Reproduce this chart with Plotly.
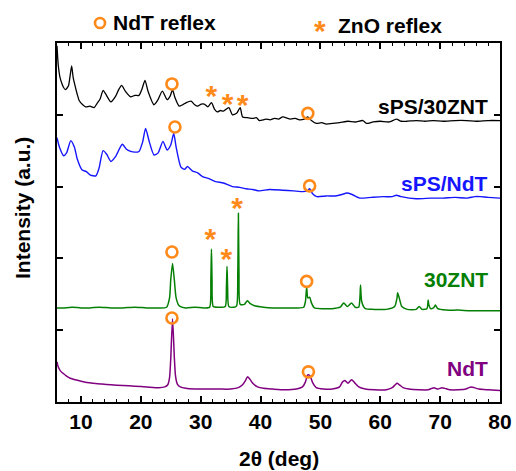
import plotly.graph_objects as go

# ---------------- data ----------------
ndt_x = [6.0, 6.2, 6.6, 7.0, 7.6, 8.2, 9.0, 10.0, 11.0, 12.0, 13.5, 15.0, 17.0, 19.0, 21.0, 23.0, 24.0,
         24.5, 24.8, 25.0, 25.3, 25.6, 25.8, 26.1, 26.6, 27.5, 29.0, 31.0, 33.0, 35.0, 36.3, 37.0, 37.5,
         37.8, 38.2, 38.7, 39.5, 40.5, 42.0, 44.0, 46.0, 47.0, 47.5, 47.8, 48.0, 48.3, 48.7, 49.3, 50.5,
         52.0, 53.2, 53.7, 54.1, 54.6, 55.2, 55.7, 56.4, 57.5, 59.0, 61.0, 62.0, 62.5, 62.8, 63.2, 63.8,
         64.8, 66.5, 68.0, 68.6, 69.0, 69.6, 70.3, 70.8, 71.6, 73.0, 74.3, 74.8, 75.2, 75.7, 76.5, 78.0, 80.0]
ndt_y = [0.56, 0.49, 0.43, 0.40, 0.36, 0.33, 0.31, 0.29, 0.27, 0.26, 0.25, 0.24, 0.23, 0.22, 0.21, 0.20, 0.21,
         0.24, 0.34, 0.60, 1.16, 0.62, 0.36, 0.25, 0.21, 0.19, 0.18, 0.18, 0.18, 0.18, 0.20, 0.24, 0.30,
         0.35, 0.32, 0.26, 0.21, 0.19, 0.18, 0.17, 0.18, 0.21, 0.28, 0.37, 0.38, 0.36, 0.27, 0.20, 0.18,
         0.18, 0.21, 0.28, 0.30, 0.26, 0.31, 0.27, 0.21, 0.18, 0.17, 0.17, 0.20, 0.24, 0.26, 0.24, 0.20,
         0.18, 0.17, 0.17, 0.19, 0.20, 0.18, 0.20, 0.19, 0.17, 0.17, 0.18, 0.20, 0.21, 0.20, 0.18, 0.17, 0.16]

znt_x = [6.0, 7.0, 8.5, 10.0, 11.5, 13.0, 15.0, 17.0, 19.0, 21.0, 23.0, 24.3, 24.8, 25.0, 25.3, 25.6,
         25.9, 26.4, 27.5, 29.0, 30.5, 31.5, 31.7, 31.8, 31.9, 32.1, 33.0, 34.1, 34.3, 34.4, 34.5, 34.7,
         35.5, 36.0, 36.2, 36.3, 36.4, 36.6, 37.3, 37.8, 38.3, 39.0, 40.5, 42.0, 44.0, 46.0, 47.2, 47.5,
         47.7, 47.9, 48.2, 48.5, 49.0, 50.5, 52.0, 53.3, 53.9, 54.5, 55.2, 55.8, 56.4, 56.6, 56.7, 56.9,
         57.5, 59.0, 61.0, 62.4, 62.8, 62.9, 63.2, 63.6, 64.5, 66.0, 66.5, 67.0, 67.8, 68.0, 68.1, 68.4,
         68.9, 69.2, 69.6, 71.0, 73.0, 75.0, 77.0, 80.0]
znt_y = [1.31, 1.31, 1.32, 1.31, 1.31, 1.32, 1.31, 1.31, 1.32, 1.31, 1.31, 1.32, 1.45, 1.70, 1.93, 1.70,
         1.45, 1.34, 1.31, 1.32, 1.31, 1.32, 1.70, 2.13, 1.70, 1.33, 1.32, 1.33, 1.60, 1.89, 1.60, 1.33,
         1.32, 1.34, 1.80, 2.63, 1.80, 1.36, 1.36, 1.41, 1.37, 1.34, 1.32, 1.31, 1.31, 1.31, 1.32, 1.40,
         1.60, 1.45, 1.46, 1.38, 1.31, 1.30, 1.30, 1.32, 1.38, 1.33, 1.38, 1.32, 1.32, 1.45, 1.63, 1.40,
         1.30, 1.29, 1.29, 1.33, 1.45, 1.52, 1.44, 1.33, 1.29, 1.29, 1.33, 1.29, 1.30, 1.42, 1.36, 1.30,
         1.31, 1.35, 1.30, 1.28, 1.28, 1.27, 1.27, 1.27]

spsndt_x = [6.0, 6.4, 7.1, 7.6, 8.3, 8.9, 9.4, 10.2, 10.9, 11.6, 12.5, 13.0, 13.7, 14.3, 15.0, 15.8,
            16.9, 17.6, 18.3, 19.0, 19.7, 20.3, 20.8, 21.4, 22.2, 22.9, 23.7, 24.4, 25.0, 25.5, 25.9,
            26.7, 27.3, 27.8, 28.6, 29.5, 30.3, 31.4, 32.5, 33.8, 35.3, 36.5, 37.6, 38.7, 39.8, 41.5,
            43.7, 45.5, 47.0, 47.8, 48.2, 48.7, 49.4, 51.0, 52.5, 53.6, 54.4, 55.3, 56.6, 58.5, 60.5,
            62.0, 62.7, 63.5, 66.0, 68.5, 70.5, 72.5, 74.5, 75.8, 76.7, 78.0, 80.0]
spsndt_y = [3.68, 3.55, 3.43, 3.47, 3.64, 3.55, 3.38, 3.23, 3.21, 3.16, 3.15, 3.25, 3.50, 3.45, 3.35, 3.42,
            3.59, 3.52, 3.49, 3.48, 3.49, 3.62, 3.81, 3.63, 3.44, 3.47, 3.63, 3.51, 3.58, 3.74, 3.55,
            3.27, 3.24, 3.28, 3.22, 3.19, 3.14, 3.11, 3.07, 3.05, 3.00, 2.99, 2.97, 2.96, 2.94, 2.96,
            2.95, 2.94, 2.93, 2.94, 2.97, 2.90, 2.86, 2.87, 2.87, 2.89, 2.91, 2.89, 2.84, 2.85, 2.86,
            2.86, 2.88, 2.86, 2.83, 2.84, 2.84, 2.85, 2.84, 2.86, 2.86, 2.85, 2.84]

sps30_x = [6.0, 6.2, 6.5, 6.8, 7.1, 7.4, 7.9, 8.2, 8.45, 8.7, 9.0, 9.4, 9.7, 10.3, 10.8, 11.5,
           12.2, 12.7, 13.2, 13.7, 14.2, 15.0, 15.8, 16.3, 16.8, 17.4, 18.3, 19.0, 19.7, 20.2, 20.7,
           21.2, 22.2, 22.8, 23.6, 24.4, 24.9, 25.3, 25.7, 26.4, 27.0, 27.6, 28.4, 29.0, 29.5, 30.1,
           30.6, 31.2, 31.8, 32.3, 32.8, 33.3, 33.8, 34.7, 35.3, 36.0, 36.6, 37.0, 37.8, 38.7, 39.3,
           39.8, 40.9, 41.6, 42.3, 43.0, 43.7, 45.0, 45.8, 46.5, 47.3, 47.9, 48.5, 49.3, 50.2, 51.0,
           52.0, 53.2, 54.6, 55.8, 57.1, 57.7, 58.8, 60.0, 61.5, 62.7, 63.5, 64.4, 66.0, 67.5, 68.8,
           70.5, 72.5, 74.4, 76.0, 78.0, 80.0]
sps30_y = [4.96, 4.70, 4.52, 4.44, 4.38, 4.35, 4.40, 4.55, 4.68, 4.52, 4.41, 4.28, 4.20, 4.14, 4.11,
           4.12, 4.10, 4.16, 4.22, 4.34, 4.28, 4.18, 4.26, 4.35, 4.41, 4.33, 4.25, 4.27, 4.27, 4.36, 4.48,
           4.33, 4.14, 4.20, 4.33, 4.21, 4.26, 4.35, 4.24, 4.12, 4.14, 4.17, 4.19, 4.14, 4.12, 4.15,
           4.15, 4.11, 4.17, 4.08, 4.04, 4.06, 4.05, 4.10, 4.00, 4.02, 4.10, 3.97, 3.96, 3.95, 3.96,
           3.92, 3.94, 3.93, 3.95, 3.94, 3.97, 3.94, 3.95, 3.93, 3.94, 3.97, 3.92, 3.88, 3.89, 3.87,
           3.88, 3.89, 3.91, 3.90, 3.92, 3.88, 3.90, 3.91, 3.90, 3.94, 3.91, 3.91, 3.92, 3.91, 3.92,
           3.91, 3.92, 3.92, 3.91, 3.92, 3.92]

# reflex markers (2theta, intensity position)
ndt_ref_x = [25.2, 25.7, 25.2, 25.2, 47.9, 48.2, 47.7, 48.0]
ndt_ref_y = [4.43, 3.83, 2.09, 1.17, 4.02, 3.01, 1.68, 0.42]
zno_ref_x = [31.8, 34.5, 37.0, 31.6, 34.3, 36.1]
zno_ref_y = [4.23, 4.12, 4.10, 2.24, 1.96, 2.67]

x_ticks = [10, 20, 30, 40, 50, 60, 70, 80]
labels = ["sPS/30ZNT", "sPS/NdT", "30ZNT", "NdT"]
label_y = [4.11, 3.05, 1.71, 0.47]
colors = ["#000000", "#1515FF", "#058005", "#800080"]
ORANGE = "#FF8A1A"
FONT = "Liberation Sans, Arial, sans-serif"

# plot-area geometry in pixels
L, R, T, B = 57, 500, 43, 402
W, H = R - L, B - T


def px(x):
    return (x - L) / W


def py(y):
    return (B - y) / H


fig = go.Figure()
for xs, ys, c, w in [(sps30_x, sps30_y, colors[0], 1.3), (spsndt_x, spsndt_y, colors[1], 1.4),
                     (znt_x, znt_y, colors[2], 1.5), (ndt_x, ndt_y, colors[3], 1.5)]:
    fig.add_trace(go.Scatter(x=xs, y=ys, mode="lines",
                             line=dict(color=c, width=w, shape="spline", smoothing=0.6),
                             showlegend=False, hoverinfo="skip"))

fig.add_trace(go.Scatter(x=ndt_ref_x, y=ndt_ref_y, mode="markers",
                         marker=dict(symbol="circle-open", size=11, color=ORANGE, line=dict(width=2.6, color=ORANGE)),
                         showlegend=False))
fig.add_trace(go.Scatter(x=zno_ref_x, y=zno_ref_y, mode="text", text=["*"] * len(zno_ref_x),
                         textposition="middle center",
                         textfont=dict(family=FONT, size=30, color=ORANGE, weight="bold"),
                         showlegend=False))

for lab, ly, c in zip(labels, label_y, colors):
    fig.add_annotation(x=78.4, y=ly, xref="x", yref="y", text="<b>%s</b>" % lab, showarrow=False,
                       xanchor="right", yanchor="middle", font=dict(family=FONT, size=21, color=c))

# header legend
fig.add_shape(type="circle", xref="paper", yref="paper",
              x0=px(95), x1=px(105), y0=py(28), y1=py(18),
              line=dict(color=ORANGE, width=2.6))
fig.add_annotation(xref="paper", yref="paper", x=px(111), y=py(22),
                   text="<b>NdT reflex</b>", showarrow=False, xanchor="left", yanchor="middle",
                   font=dict(family=FONT, size=21, color="black"))
fig.add_annotation(xref="paper", yref="paper", x=px(320), y=py(30),
                   text="<b>*</b>", showarrow=False, xanchor="center", yanchor="middle",
                   font=dict(family=FONT, size=30, color=ORANGE))
fig.add_annotation(xref="paper", yref="paper", x=px(336), y=py(25),
                   text="<b>ZnO reflex</b>", showarrow=False, xanchor="left", yanchor="middle",
                   font=dict(family=FONT, size=21, color="black"))
# axis titles
fig.add_annotation(xref="paper", yref="paper", x=px(22), y=py(208),
                   text="<b>Intensity (a.u.)</b>", showarrow=False, textangle=-90,
                   xanchor="center", yanchor="middle", font=dict(family=FONT, size=21, color="black"))
fig.add_annotation(xref="paper", yref="paper", x=px(279), y=py(458),
                   text="<b>2θ (deg)</b>", showarrow=False,
                   xanchor="center", yanchor="middle", font=dict(family=FONT, size=21, color="black"))

fig.update_layout(
    width=516, height=471,
    margin=dict(l=L, r=516 - R, t=T, b=471 - B, autoexpand=False),
    paper_bgcolor="white", plot_bgcolor="white",
    font=dict(family=FONT, color="black"),
    xaxis=dict(range=[6, 80], tickvals=x_ticks,
               ticktext=["<b>%d</b>" % v for v in x_ticks],
               ticks="inside", ticklen=6, tickwidth=1.5, tickcolor="black",
               minor=dict(dtick=2, tick0=0, ticks="inside", ticklen=3, tickwidth=1.2, tickcolor="black"),
               showline=True, linewidth=2, linecolor="black", mirror="ticks", automargin=False,
               showgrid=False, zeroline=False, tickfont=dict(family=FONT, size=21, color="black")),
    yaxis=dict(range=[0, 5], tickvals=[1, 2, 3, 4], showticklabels=False,
               ticks="inside", ticklen=6, tickwidth=1.5, tickcolor="black", automargin=False,
               showline=True, linewidth=2, linecolor="black", mirror="ticks",
               showgrid=False, zeroline=False),
)

fig.write_html("out.html")
